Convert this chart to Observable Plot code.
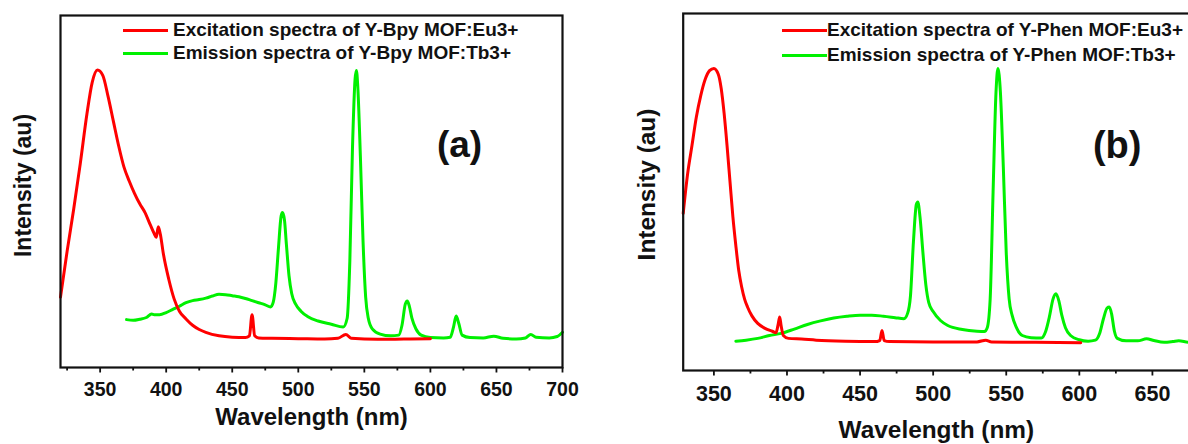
<!DOCTYPE html>
<html>
<head>
<meta charset="utf-8">
<script src="https://cdn.jsdelivr.net/npm/d3@7"></script>
<script src="https://cdn.jsdelivr.net/npm/@observablehq/plot@0.6"></script>
<style>
  html, body { margin: 0; padding: 0; background: #fff; }
  body { width: 1188px; height: 444px; overflow: hidden; position: relative;
         font-family: "Liberation Sans", Arial, sans-serif; }
  .panel { position: absolute; top: 0; }
  .panel svg { max-width: none !important; display: block; }
  .legend { position: absolute; font-weight: bold; font-size: 19px; color: #111; white-space: nowrap; }
  .legend .row { position: absolute; left: 0; height: 0; white-space: nowrap; }
  .legend .sw { position: absolute; height: 3px; margin-top: -1.5px; }
  .legend .tx { position: absolute; line-height: 22px; top: -11px; }
</style>
</head>
<body>
<div id="left" class="panel" style="left:0px; width:600px"></div>
<div id="right" class="panel" style="left:600px; width:645px"></div>
<div id="legendA" class="legend"></div>
<div id="legendB" class="legend"></div>
<script>
// ---------- data ----------
const xTicksA = [350, 400, 450, 500, 550, 600, 650, 700];
const xTicksB = [350, 400, 450, 500, 550, 600, 650]; // 700 falls outside the cropped picture
const xMinorTicks = [325, 375, 425, 475, 525, 575, 625, 675];

const seriesNamesA = ["Excitation spectra of Y-Bpy MOF:Eu3+", "Emission spectra of Y-Bpy MOF:Tb3+"];
const seriesNamesB = ["Excitation spectra of Y-Phen MOF:Eu3+", "Emission spectra of Y-Phen MOF:Tb3+"];
const seriesColors = ["#ff0000", "#00f000"];

// (a) Y-Bpy excitation (Eu3+)
const bpyExWl = [320, 325, 330, 335, 340, 344, 348, 352, 356, 360, 364, 368, 372, 376, 380, 384, 388, 391, 392.5, 394, 395.5, 398, 402, 406, 410, 415, 420, 425, 430, 440, 450, 460, 463, 465, 467, 470, 480, 500, 520, 530, 536, 540, 560, 580, 600];
const bpyExI  = [20, 33, 45, 58, 72, 81, 84.5, 83, 77, 70, 63, 57, 53, 49.5, 46.5, 44, 40.5, 38, 37, 40, 38, 32, 25, 19.5, 16, 13.8, 12, 10.8, 10, 9, 8.6, 8.5, 9, 15, 9, 8.4, 8.3, 8.2, 8.1, 8.3, 9.4, 8.3, 8, 8.1, 8.2];

// (a) Y-Bpy emission (Tb3+)
const bpyEmWl = [370, 375, 380, 385, 389, 391, 395, 400, 405, 410, 415, 420, 425, 430, 435, 440, 445, 450, 455, 460, 465, 470, 475, 479, 481, 483, 485, 487, 488, 489.5, 491, 493, 495, 498, 502, 507, 515, 525, 534, 537, 539, 541, 543, 544, 545, 547, 549, 551, 553, 556, 562, 570, 576, 578.5, 581, 582.5, 584, 586, 589, 593, 600, 610, 615, 617.5, 619.5, 621.5, 624, 630, 640, 648, 655, 665, 672, 676, 680, 690, 696, 700];
const bpyEmI  = [13.6, 13.4, 13.7, 14.2, 15.2, 15.0, 15.0, 15.6, 16.5, 17.4, 18.4, 19.0, 19.3, 19.7, 20.3, 20.8, 20.7, 20.4, 20.1, 19.6, 19.0, 18.4, 17.8, 17.2, 18.5, 24, 34, 43, 44, 42, 35, 26, 21, 18, 16, 14.5, 13.2, 12.3, 11.5, 14, 30, 62, 82, 84.4, 80, 60, 36, 20, 14, 11, 9.5, 9, 9.2, 12, 18, 18.9, 17.5, 14, 11, 9.2, 8.5, 8.4, 8.6, 11.5, 14.6, 12.5, 9.2, 8.5, 8.4, 8.9, 8.3, 8.1, 8.4, 9.4, 8.6, 8.4, 8.8, 10.0];

// (b) Y-Phen excitation (Eu3+)
const phenExWl = [329, 332, 335, 338, 341, 344, 347, 350, 353, 355, 357, 359, 361, 363, 365, 367, 369, 371, 373, 376, 380, 385, 390, 392.5, 394, 395, 396, 397.5, 401, 410, 420, 440, 460, 463.5, 465, 466.5, 470, 500, 530, 536, 540, 570, 601];
const phenExI  = [44, 55, 63, 71, 77, 81.5, 84, 84.6, 83, 79, 72, 63, 53, 43, 35, 28, 23.4, 20, 17.8, 15.3, 13.2, 11.8, 11, 10.6, 13, 15, 12.5, 9.8, 9, 8.8, 8.5, 8.2, 8.1, 8.4, 11.2, 8.4, 8.1, 8.0, 8.0, 8.5, 8.0, 7.9, 7.8];

// (b) Y-Phen emission (Tb3+)
const phenEmWl = [365, 372, 380, 388, 396, 405, 414, 423, 432, 441, 450, 458, 466, 474, 480, 482.5, 484.5, 486.5, 488.5, 489.5, 491, 493, 495, 497, 500, 505, 510, 520, 530, 535, 537, 539, 541, 543, 544.3, 546, 548, 550, 552, 554, 557, 561, 567, 574, 577, 579.5, 582, 584, 586, 588, 590.5, 594, 600, 606, 611, 614, 616.5, 619, 620.5, 622, 624, 626, 632, 640, 646, 651, 658, 664, 668, 675, 685, 700];
const phenEmI  = [8.2, 8.5, 9.0, 9.8, 10.4, 11.6, 12.9, 13.9, 14.7, 15.2, 15.5, 15.5, 15.2, 14.8, 14.5, 16, 21, 36, 46.5, 47.2, 43, 33, 24, 19, 16.5, 14, 12.6, 11.5, 11, 10.9, 12, 20, 50, 78, 84.6, 78, 57, 33, 20, 15.5, 12, 9.8, 9.2, 9.1, 11, 15, 20, 21.5, 19.5, 15.5, 12, 9.8, 8.6, 8.2, 8.5, 10.5, 14.5, 17.5, 17.8, 16, 11, 9, 8.3, 8.3, 8.9, 8.4, 7.9, 8.1, 8.3, 7.9, 8.1, 8.0];

// ---------- drawing ----------
const FONT = '"Liberation Sans", Arial, Helvetica, sans-serif';
const toRows = (wl, iv) => wl.map((w, i) => ({wl: w, v: iv[i]}));

function panel(o) {
  const ex = toRows(o.exWl, o.exI);
  const em = toRows(o.emWl, o.emI);
  const minor = xMinorTicks.filter(t => t >= o.domain[0] && t <= o.domain[1]);
  const svg = Plot.plot({
    width: o.width, height: 444,
    marginLeft: o.ml, marginRight: o.mr, marginTop: o.mt, marginBottom: o.mb,
    style: {fontFamily: FONT, fontWeight: "bold", background: "transparent", color: "#111", overflow: "visible", maxWidth: "none"},
    x: {domain: o.domain},
    y: {domain: [0, 100], axis: null},
    marks: [
      Plot.line(em, {x: "wl", y: "v", stroke: seriesColors[1], strokeWidth: 3, curve: "monotone-x", strokeLinejoin: "round"}),
      Plot.line(ex, {x: "wl", y: "v", stroke: seriesColors[0], strokeWidth: 3, curve: "monotone-x", strokeLinejoin: "round"}),
      Plot.frame({stroke: "#111", strokeWidth: 2.2}),
      Plot.axisX(minor, {tickSize: 3.5, strokeWidth: 1.8, tickFormat: () => "", label: null}),
      Plot.axisX(o.ticks, {tickSize: 5.5, strokeWidth: 1.8, tickPadding: o.tickPad, fontSize: o.tickFont, fontWeight: "bold", tickFormat: d => String(d), label: null}),
      Plot.text(["Wavelength (nm)"], {frameAnchor: "bottom", textAnchor: "middle", lineAnchor: "middle", dx: o.xtDx, dy: o.xtDy, fontSize: o.titleFont, fontWeight: "bold", fill: "#111"}),
      Plot.text(["Intensity (au)"], {frameAnchor: "left", textAnchor: "middle", lineAnchor: "middle", rotate: -90, dx: o.ytDx, dy: o.ytDy, fontSize: o.yTitleFont, fontWeight: "bold", fill: "#111"}),
      Plot.text([o.tag], {frameAnchor: "top-left", textAnchor: "middle", lineAnchor: "middle", dx: o.tagDx, dy: o.tagDy, fontSize: o.tagFont, fontWeight: "bold", fill: "#111"})
    ]
  });
  svg.style.maxWidth = "none";
  return svg;
}

document.getElementById("left").append(panel({
  exWl: bpyExWl, exI: bpyExI, emWl: bpyEmWl, emI: bpyEmI, ticks: xTicksA,
  domain: [320, 700], width: 600, ml: 60, mr: 38, mt: 15, mb: 77,
  tickFont: 19.5, tickPad: 9.5, titleFont: 24, yTitleFont: 23,
  xtDx: 0, xtDy: 50, ytDx: -37, ytDy: -6,
  tag: "(a)", tagDx: 399, tagDy: 130, tagFont: 37
}));

document.getElementById("right").append(panel({
  exWl: phenExWl, exI: phenExI, emWl: phenEmWl, emI: phenEmI, ticks: xTicksB,
  domain: [329, 700], width: 645, ml: 82.7, mr: 20, mt: 13, mb: 74,
  tickFont: 21.5, tickPad: 10, titleFont: 24.4, yTitleFont: 24.4,
  xtDx: -18, xtDy: 60, ytDx: -36, ytDy: -7.5,
  tag: "(b)", tagDx: 434, tagDy: 132, tagFont: 38
}));

function legend(el, names, left, lineLen, gap, ys) {
  el.style.left = left + "px";
  el.style.top = "0px";
  names.forEach((name, i) => {
    const row = document.createElement("div");
    row.className = "row";
    row.style.top = ys[i] + "px";
    const sw = document.createElement("div");
    sw.className = "sw";
    sw.style.left = "0px";
    sw.style.width = lineLen + "px";
    sw.style.background = seriesColors[i];
    const tx = document.createElement("div");
    tx.className = "tx";
    tx.style.left = (lineLen + gap) + "px";
    tx.textContent = name;
    row.append(sw, tx);
    el.append(row);
  });
}
legend(document.getElementById("legendA"), seriesNamesA, 123, 45, 5, [30, 53]);
legend(document.getElementById("legendB"), seriesNamesB, 782, 45, 0, [30, 55]);
</script>
</body>
</html>
